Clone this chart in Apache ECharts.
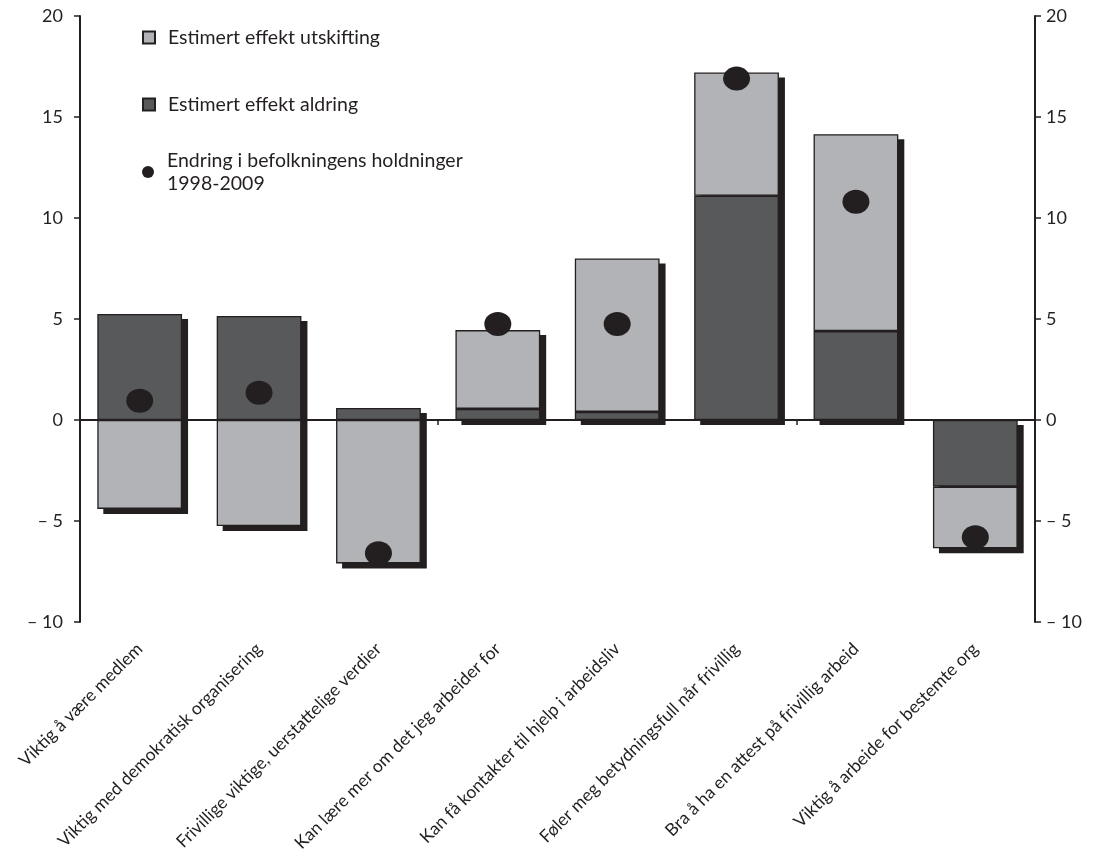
<!DOCTYPE html>
<html><head><meta charset="utf-8">
<script src="https://cdn.jsdelivr.net/npm/echarts@6/dist/echarts.min.js"></script>
<style>html,body{margin:0;padding:0;background:#fff}#c{width:1096px;height:863px}</style>
</head><body><div id="c"></div>
<script>
var categories = ['Viktig å være medlem','Viktig med demokratisk organisering','Frivillige viktige, uerstattelige verdier','Kan lære mer om det jeg arbeider for','Kan få kontakter til hjelp i arbeidsliv','Føler meg betydningsfull når frivillig','Bra å ha en attest på frivillig arbeid','Viktig å arbeide for bestemte org'];
var aldring = [5.25, 5.15, 0.6, 0.55, 0.4, 11.1, 4.4, -3.3];
var utskifting = [-4.4, -5.25, -7.1, 3.9, 7.6, 6.1, 9.75, -3.05];
var endring = [0.95, 1.35, -6.6, 4.75, 4.75, 16.9, 10.8, -5.8];
var yTicks = [-10, -5, 0, 5, 10, 15, 20];

var nameU = 'Estimert effekt utskifting';
var nameA = 'Estimert effekt aldring';
var nameE = 'Endring i befolkningens holdninger\n1998-2009';

var shadowData = categories.map(function(c, i){
  var pos = 0, neg = 0;
  [aldring[i], utskifting[i]].forEach(function(v){ if (v >= 0) pos += v; else neg += v; });
  return [i, pos, neg];
});

var FONT = 'Lato';
var INK = '#231f20';
var chart = echarts.init(document.getElementById('c'));
var yLab = function(v){ return v < 0 ? '\u2013 ' + Math.abs(v) : String(v); };
var yAxisBase = function(pos, margin){
  return {
    type: 'value', position: pos, min: yTicks[0], max: yTicks[yTicks.length-1], interval: 5,
    splitLine: {show: false},
    axisLine: {show: true, lineStyle: {color: INK, width: 2}},
    axisTick: {show: true, length: 6, lineStyle: {color: INK, width: 1.5}},
    axisLabel: {color: INK, fontFamily: FONT, fontSize: 18, margin: margin, formatter: yLab}
  };
};
var legendText = {color: INK, fontFamily: FONT, fontSize: 19.5, padding: [0,0,0,8], lineHeight: 23};
var legendBase = function(name, top, icon){
  return {data: [name], left: 142, top: top, padding: 0, itemWidth: 12, itemHeight: 12, icon: icon, textStyle: legendText};
};
chart.setOption({
  animation: false,
  grid: {left: 80, right: 61, top: 16, bottom: 241},
  legend: [
    legendBase(nameU, 26, 'rect'),
    legendBase(nameA, 93, 'rect'),
    legendBase(nameE, 149, 'circle')
  ],
  xAxis: [
    {type: 'category', data: categories, position: 'bottom',
     axisLine: {onZero: true, lineStyle: {color: INK, width: 2}},
     axisTick: {show: true, length: 5, alignWithLabel: false, lineStyle: {color: INK, width: 1.5}},
     axisLabel: {show: false}},
    {type: 'category', data: categories, position: 'bottom',
     axisLine: {show: false, onZero: false}, axisTick: {show: false},
     axisLabel: {show: true, rotate: 45, interval: 0, margin: 24, color: INK, fontFamily: FONT, fontSize: 17.5}}
  ],
  yAxis: [yAxisBase('left', 17), yAxisBase('right', 11)],
  series: [
    {type: 'custom', name: 'shadow', z: 1, silent: true, data: shadowData,
     renderItem: function(params, api){
       var i = api.value(0), top = api.value(1), bot = api.value(2);
       var p1 = api.coord([i, top]), p2 = api.coord([i, bot]);
       var w = api.size([1, 0])[0] * 0.71;
       return {type: 'rect', shape: {x: p1[0] - w/2 + 6, y: p1[1] + 5, width: w, height: p2[1] - p1[1]},
               style: {fill: INK}};
     }},
    {type: 'bar', name: nameA, stack: 's', data: aldring, barWidth: '71%', z: 2,
     itemStyle: {color: '#58595b', borderColor: INK, borderWidth: 1.3}},
    {type: 'bar', name: nameU, stack: 's', data: utskifting, barWidth: '71%', z: 2,
     itemStyle: {color: '#b1b3b6', borderColor: INK, borderWidth: 1.3}},
    {type: 'scatter', name: nameE, data: endring, z: 4, symbol: 'circle', symbolSize: [27, 24],
     itemStyle: {color: INK, opacity: 1}}
  ]
});
</script></body></html>
